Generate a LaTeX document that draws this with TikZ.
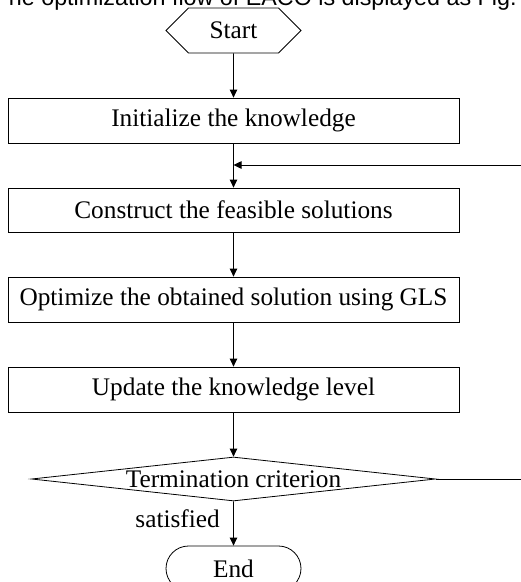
\documentclass[tikz,border=0pt]{standalone}
\usepackage{fontspec}
\setmainfont{Liberation Serif}
\newfontfamily\headfont{Liberation Sans}
\usetikzlibrary{arrows.meta,shapes.geometric,shapes.misc,shapes.symbols}
\begin{document}
\begin{tikzpicture}[x=1pt,y=-1pt,line width=0.8pt,
    every node/.style={font=\fontsize{25.3}{30}\selectfont},
    stepbox/.style={draw,minimum width=451pt,minimum height=45pt,inner sep=0pt},
    flow/.style={-{Triangle[length=8pt,width=7.5pt]}}]
            % Page size and clipping
            \useasboundingbox (0,0) rectangle (521,582);
            \clip (0,0) rectangle (521,582);
            % Cut line of text above the figure
            \node[font=\headfont\fontsize{23.3}{28}\selectfont,anchor=base east,inner sep=0pt] (caption) at (517,5) {he optimization flow of EACO is displayed as Fig.};
            % Draw the steps
            \node[draw,signal,signal to=west and east,signal pointer angle=90,minimum width=135pt,minimum height=45pt,inner sep=0pt] (start) at (233.5,30.5) {Start};
            \node[stepbox] (init) at (233.5,120.5) {Initialize the knowledge};
            \node[stepbox,minimum height=44pt] (construct) at (233.5,210) {Construct the feasible solutions};
            \node[stepbox] (optimize) at (233.5,299.5) {Optimize the obtained solution using GLS};
            \node[stepbox] (update) at (233.5,389.5) {Update the knowledge level};
            \node[draw,diamond,aspect=9.18,minimum width=404pt,minimum height=44pt,inner sep=0pt] (term) at (233.5,479) {Termination criterion};
            \node[draw,rounded rectangle,minimum width=135pt,minimum height=45pt,inner sep=0pt] (end) at (233.5,568.5) {End};
            % Arrows
            \coordinate (merge) at (233.5,165);
            \coordinate (loop) at (530,165);
            \draw[flow] (start) -- (init);
            \draw[flow] (init) -- (construct);
            \draw[flow] (construct) -- (optimize);
            \draw[flow] (optimize) -- (update);
            \draw[flow] (update) -- (term);
            \draw[flow] (term) -- node[left=10pt,pos=0.4] {satisfied} (end);
            \draw[flow] (term.east) -- (term.east -| loop) -- (loop) -- (merge);
        \end{tikzpicture}
\end{document}
